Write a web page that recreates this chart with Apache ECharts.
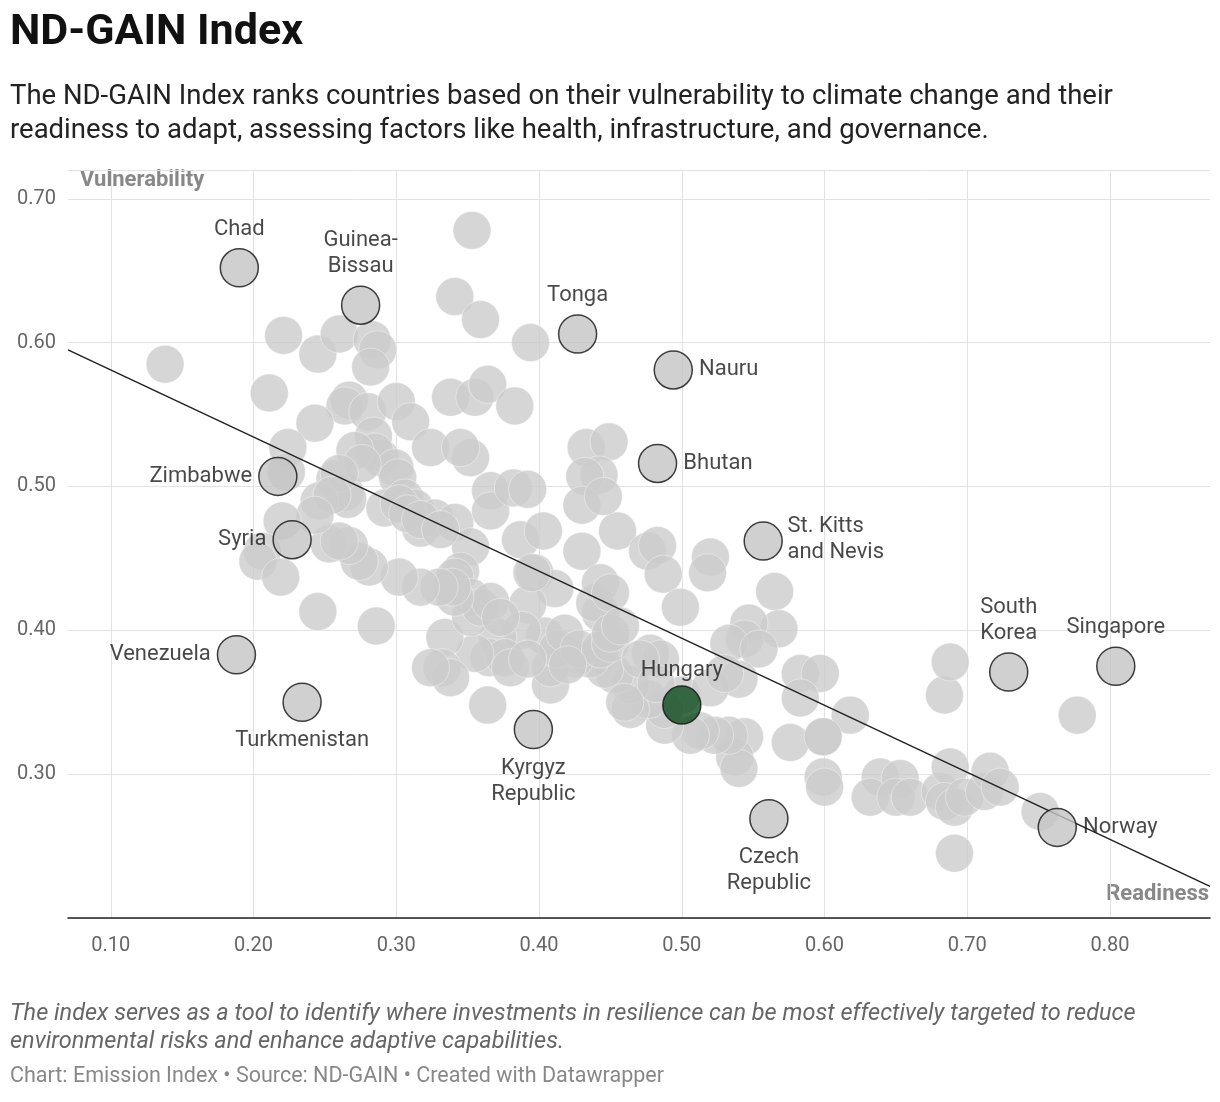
<!DOCTYPE html>
<html>
<head>
<meta charset="utf-8">
<script src="https://cdn.jsdelivr.net/npm/echarts@6/dist/echarts.min.js"></script>
<style>
  html, body { margin: 0; padding: 0; background: #fff; }
  #chart { width: 1220px; height: 1102px; }
</style>
</head>
<body>
<div id="chart"></div>
<script>
// readiness, vulnerability of the unlabelled countries
var otherCountries = [
  [0.138,0.585],[0.221,0.605],[0.211,0.565],[0.245,0.592],[0.260,0.606],[0.283,0.602],[0.287,0.595],
  [0.267,0.560],[0.264,0.556],[0.280,0.552],[0.300,0.559],[0.310,0.545],[0.284,0.535],[0.282,0.583],
  [0.243,0.544],[0.224,0.527],[0.223,0.510],[0.257,0.505],[0.264,0.496],[0.266,0.491],[0.289,0.520],
  [0.285,0.524],[0.299,0.513],[0.301,0.506],[0.306,0.492],[0.292,0.485],[0.313,0.485],[0.324,0.527],
  [0.317,0.471],[0.327,0.478],[0.341,0.475],[0.352,0.458],[0.345,0.441],[0.341,0.437],[0.352,0.520],
  [0.345,0.527],[0.338,0.562],[0.341,0.632],[0.353,0.678],[0.359,0.616],[0.355,0.562],[0.364,0.571],
  [0.383,0.556],[0.394,0.600],[0.366,0.497],[0.366,0.483],[0.382,0.499],[0.392,0.498],[0.387,0.463],
  [0.403,0.469],[0.397,0.440],[0.411,0.429],[0.433,0.527],[0.449,0.531],[0.442,0.508],[0.432,0.507],
  [0.430,0.487],[0.430,0.455],[0.455,0.469],[0.445,0.493],[0.476,0.455],[0.483,0.459],[0.487,0.439],
  [0.499,0.416],[0.520,0.451],[0.518,0.440],[0.565,0.427],[0.568,0.401],[0.547,0.405],[0.544,0.394],
  [0.533,0.391],[0.554,0.387],[0.540,0.366],[0.583,0.370],[0.597,0.370],[0.583,0.353],[0.599,0.326],
  [0.618,0.341],[0.576,0.322],[0.544,0.326],[0.537,0.312],[0.540,0.304],[0.533,0.327],[0.523,0.327],
  [0.513,0.330],[0.506,0.327],[0.500,0.355],[0.488,0.334],[0.488,0.345],[0.477,0.352],[0.464,0.345],
  [0.464,0.362],[0.453,0.369],[0.446,0.373],[0.436,0.380],[0.425,0.380],[0.408,0.362],[0.408,0.374],
  [0.404,0.396],[0.392,0.418],[0.388,0.400],[0.413,0.387],[0.418,0.398],[0.428,0.387],[0.443,0.387],
  [0.450,0.391],[0.443,0.412],[0.439,0.419],[0.443,0.433],[0.450,0.426],[0.450,0.398],[0.457,0.403],
  [0.478,0.384],[0.485,0.380],[0.471,0.380],[0.482,0.363],[0.371,0.395],[0.365,0.381],[0.376,0.381],
  [0.380,0.374],[0.355,0.384],[0.334,0.395],[0.332,0.374],[0.338,0.367],[0.324,0.374],[0.352,0.409],
  [0.352,0.423],[0.359,0.416],[0.366,0.420],[0.373,0.409],[0.341,0.423],[0.339,0.430],[0.330,0.430],
  [0.317,0.430],[0.302,0.437],[0.281,0.444],[0.274,0.448],[0.267,0.459],[0.253,0.460],[0.260,0.462],
  [0.271,0.525],[0.276,0.516],[0.260,0.509],[0.246,0.490],[0.255,0.494],[0.243,0.480],[0.220,0.476],
  [0.206,0.455],[0.203,0.448],[0.219,0.437],[0.302,0.488],[0.308,0.481],[0.317,0.477],[0.331,0.470],
  [0.364,0.348],[0.599,0.298],[0.600,0.291],[0.639,0.298],[0.653,0.297],[0.632,0.284],[0.650,0.284],
  [0.660,0.284],[0.681,0.288],[0.688,0.305],[0.684,0.281],[0.691,0.277],[0.698,0.284],[0.712,0.288],
  [0.716,0.302],[0.723,0.291],[0.751,0.274],[0.684,0.355],[0.688,0.378],[0.691,0.245],[0.777,0.341],
  [0.599,0.326],[0.245,0.413],[0.286,0.403],[0.392,0.380],[0.395,0.440],[0.420,0.376],[0.460,0.350],
  [0.520,0.360],[0.530,0.370]
];

var labelNames = ['Chad','Guinea-\nBissau','Tonga','Nauru','Bhutan','Zimbabwe','Syria','St. Kitts\nand Nevis',
  'Venezuela','Turkmenistan','Kyrgyz\nRepublic','Czech\nRepublic','South\nKorea','Singapore','Norway'];
var labelReadiness = [0.190,0.275,0.427,0.494,0.483,0.217,0.227,0.557,0.188,0.234,0.396,0.561,0.729,0.804,0.763];
var labelVulnerability = [0.652,0.626,0.606,0.581,0.516,0.507,0.463,0.462,0.383,0.350,0.331,0.269,0.371,0.375,0.263];
var labelSides = ['top','top','top','right','right','left','left','right','left','bottom','bottom','bottom','top','top','right'];

var hungary = [0.500, 0.348];
var trendLine = [[0.07, 0.595], [0.87, 0.222]];
var xTicks = [0.1,0.2,0.3,0.4,0.5,0.6,0.7,0.8];

var font = 'Roboto';
var myChart = echarts.init(document.getElementById('chart'));

var labelled = labelNames.map(function (n, i) {
  var lab = { show: true, position: labelSides[i], formatter: n, fontSize: 22, color: '#1a1a1a',
    fontFamily: font, lineHeight: 26, distance: 6 };
  if (n.indexOf('St. Kitts') === 0) { lab.position = [44, -8]; lab.align = 'left'; }
  return { value: [labelReadiness[i], labelVulnerability[i]], label: lab };
});

var option = {
  animation: false,
  textStyle: { fontFamily: font },
  grid: { left: 68, right: 10, top: 170, bottom: 184 },
  xAxis: {
    type: 'value', min: 0.07, max: 0.87,
    axisLine: { show: true, lineStyle: { color: '#222', width: 1.5 } },
    axisTick: { show: false, customValues: xTicks },
    axisLabel: { customValues: xTicks, color: '#666', fontSize: 20, margin: 18,
      formatter: function (v) { return v.toFixed(2); } },
    splitLine: { show: true, lineStyle: { color: '#e2e2e2' } }
  },
  yAxis: {
    type: 'value', min: 0.2, max: 0.72, interval: 0.1,
    axisLine: { show: false }, axisTick: { show: false },
    axisLabel: { color: '#666', fontSize: 20, margin: 12, showMinLabel: false, showMaxLabel: false,
      formatter: function (v) { return v.toFixed(2); } },
    splitLine: { lineStyle: { color: '#e2e2e2' } }
  },
  graphic: [
    { type: 'text', left: 10, top: 12, style: { text: 'ND-GAIN Index', font: 'bold 43px Roboto', fill: '#111' } },
    { type: 'text', left: 10, top: 80, style: { text: 'The ND-GAIN Index ranks countries based on their vulnerability to climate change and their\nreadiness to adapt, assessing factors like health, infrastructure, and governance.', font: '27.5px Roboto', fill: '#222', lineHeight: 34 } },
    { type: 'text', left: 80, top: 169, style: { text: 'Vulnerability', font: 'bold 22px Roboto', fill: '#888' } },
    { type: 'text', right: 11, top: 883, style: { text: 'Readiness', font: 'bold 22px Roboto', fill: '#888' } },
    { type: 'text', left: 10, top: 1000, style: { text: 'The index serves as a tool to identify where investments in resilience can be most effectively targeted to reduce\nenvironmental risks and enhance adaptive capabilities.', font: 'italic 23.5px Roboto', fill: '#666', lineHeight: 28 } },
    { type: 'text', left: 10, top: 1066, style: { text: 'Chart: Emission Index \u2022 Source: ND-GAIN \u2022 Created with Datawrapper', font: '21.5px Roboto', fill: '#888' } }
  ],
  series: [
    { type: 'scatter', data: otherCountries, symbolSize: 38,
      itemStyle: { color: '#cccccc', opacity: 0.8, borderColor: '#fff', borderWidth: 0.5 } },
    { type: 'line', data: trendLine, symbol: 'none', lineStyle: { color: '#222', width: 1.5 }, z: 3 },
    { type: 'scatter', data: labelled, symbolSize: 38, z: 4,
      itemStyle: { color: '#c4c4c4', borderColor: '#111', borderWidth: 1.5 } },
    { type: 'scatter', data: [{ value: hungary, label: { show: true, position: 'top', formatter: 'Hungary', fontSize: 22, color: '#1a1a1a', distance: 4 } }],
      symbolSize: 38, z: 5, itemStyle: { color: '#0b4a1c', borderColor: '#111', borderWidth: 1.5 } }
  ]
};

myChart.setOption(option);
</script>
</body>
</html>
